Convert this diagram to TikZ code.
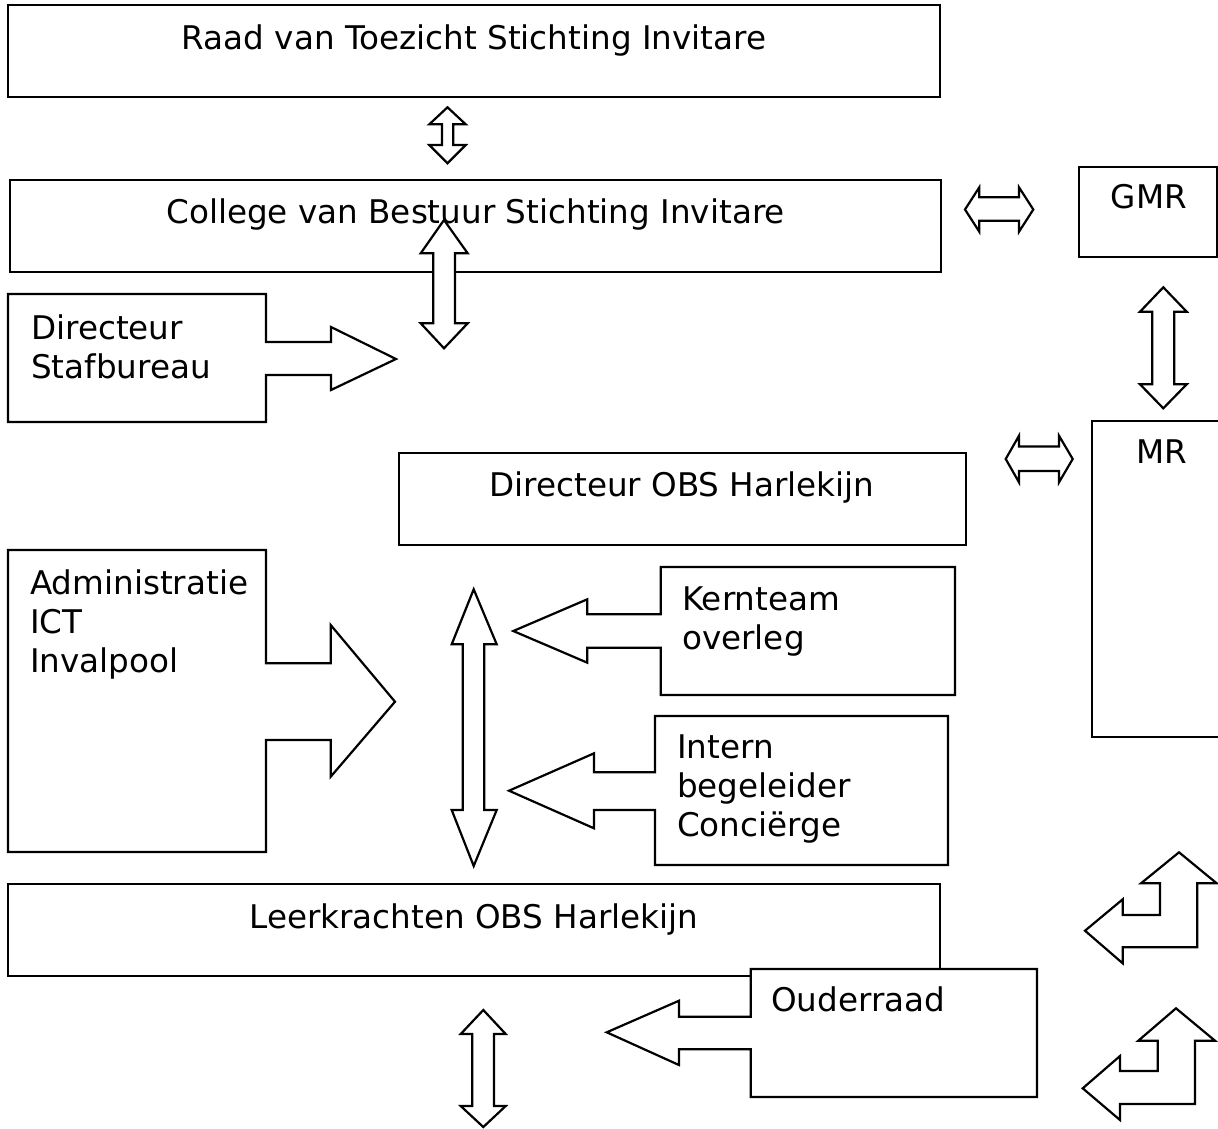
\documentclass[tikz,border=0pt]{standalone}
\usepackage{fontspec}
\setmainfont{DejaVu Sans}
\begin{document}
\begin{tikzpicture}[x=1pt,y=-1pt]
\tikzset{
  shp/.style={draw=black, fill=white, line width=2.2pt, line join=miter},
  lbl/.style={inner sep=0pt, font=\fontsize{32.6}{39}\selectfont, align=left},
}
\useasboundingbox (0,0) rectangle (1218,1128);
% top boxes
\draw[shp] (8,5) rectangle (940,97);
\draw[shp] (10,180) rectangle (941,272);
\draw[shp] (1079,167) rectangle (1217,257);
% Raad <-> College
\draw[shp] (447.5,107.3) -- (465.7,124.3) -- (453.3,124.3) -- (453.3,145) -- (465.7,145) -- (447.5,163.3) -- (429.3,145) -- (442,145) -- (442,124.3) -- (429.3,124.3) -- cycle;
% College <-> Stafbureau
\draw[shp] (444,220) -- (467.7,253.3) -- (455,253.3) -- (455,323.3) -- (467.7,323.3) -- (444,348.3) -- (420.7,323.3) -- (433.3,323.3) -- (433.3,253.3) -- (420.7,253.3) -- cycle;
% College <-> GMR
\draw[shp] (965,209.5) -- (979.3,187.3) -- (979.3,197.3) -- (1019,197.3) -- (1019,187.3) -- (1033.3,209.5) -- (1019,231.7) -- (1019,220.7) -- (979.3,220.7) -- (979.3,231.7) -- cycle;
% GMR <-> MR
\draw[shp] (1163.3,287.3) -- (1186.7,311.7) -- (1174.3,311.7) -- (1174.3,384.3) -- (1186.7,384.3) -- (1163.3,408.3) -- (1140,384.3) -- (1152.3,384.3) -- (1152.3,311.7) -- (1140,311.7) -- cycle;
% Directeur <-> MR
\draw[shp] (1005.7,459) -- (1019,435.7) -- (1019,446.5) -- (1059,446.5) -- (1059,435.7) -- (1072.7,459) -- (1059,482.3) -- (1059,471) -- (1019,471) -- (1019,482.3) -- cycle;
% Stafbureau callout
\draw[shp] (8,294) -- (266,294) -- (266,342) -- (331,342) -- (331,327) -- (396,359) -- (331,390) -- (331,375) -- (266,375) -- (266,422) -- (8,422) -- cycle;
% Directeur OBS
\draw[shp] (399,453) rectangle (966,545);
% MR (open to the right)
\draw[shp] (1230,421) -- (1092,421) -- (1092,737) -- (1230,737);
% Administratie callout
\draw[shp] (8,550) -- (266,550) -- (266,663.3) -- (330.7,663.3) -- (330.7,625) -- (395,701.7) -- (330.7,776.7) -- (330.7,740) -- (266,740) -- (266,852) -- (8,852) -- cycle;
% Kernteam callout
\draw[shp] (660.7,567) -- (955,567) -- (955,695) -- (660.7,695) -- (660.7,647.7) -- (587.3,647.7) -- (587.3,662.7) -- (513.3,631) -- (587.3,599.3) -- (587.3,614.3) -- (660.7,614.3) -- cycle;
% Intern callout
\draw[shp] (655,716) -- (948,716) -- (948,865) -- (655,865) -- (655,810) -- (594,810) -- (594,828.3) -- (509,790.7) -- (594,753.3) -- (594,772.3) -- (655,772.3) -- cycle;
% big vertical double arrow
\draw[shp] (473.7,589.3) -- (496.7,644.3) -- (484.3,644.3) -- (484.3,810) -- (496.7,810) -- (473.7,866) -- (451.7,810) -- (462.7,810) -- (462.7,644.3) -- (451.7,644.3) -- cycle;
% Leerkrachten
\draw[shp] (8,884) rectangle (940,976);
% Ouderraad callout
\draw[shp] (750.7,969) -- (1037,969) -- (1037,1097) -- (750.7,1097) -- (750.7,1049.3) -- (679,1049.3) -- (679,1065) -- (606.7,1032.3) -- (679,1000.7) -- (679,1016.7) -- (750.7,1016.7) -- cycle;
% bottom double arrow
\draw[shp] (483.3,1010) -- (505.7,1034) -- (494,1034) -- (494,1106) -- (505.7,1106) -- (483.3,1127) -- (460.7,1106) -- (472.3,1106) -- (472.3,1034) -- (460.7,1034) -- cycle;
% bent arrows
\draw[shp] (1179,852.3) -- (1216.7,883.3) -- (1197.3,883.3) -- (1197.3,947.3) -- (1122.7,947.3) -- (1122.7,963.3) -- (1085,930.7) -- (1122.7,899.3) -- (1122.7,915) -- (1160,915) -- (1160,883.3) -- (1141,883.3) -- cycle;
\draw[shp] (1176,1008.3) -- (1215,1040.7) -- (1195,1040.7) -- (1195,1104) -- (1120,1104) -- (1120,1120) -- (1082.7,1088.3) -- (1120,1056) -- (1120,1071) -- (1157.7,1071) -- (1157.7,1040.7) -- (1138.3,1040.7) -- cycle;
% labels
\node[lbl, anchor=base] (raad) at (474,49) {Raad van Toezicht Stichting Invitare};
\node[lbl, anchor=base] (college) at (475.5,223) {College van Bestuur Stichting Invitare};
\node[lbl, anchor=base] (gmr) at (1149,208) {GMR};
\node[lbl, anchor=base] (mr) at (1162,463) {MR};
\node[lbl, anchor=base west] (staf) at (31,378) {Directeur\\Stafbureau};
\node[lbl, anchor=base] (dirobs) at (682,496) {Directeur OBS Harlekijn};
\node[lbl, anchor=base west] (admin) at (30,672) {Administratie\\ICT\\Invalpool};
\node[lbl, anchor=base west] (kern) at (682,649) {Kernteam\\overleg};
\node[lbl, anchor=base west] (intern) at (677,836) {Intern\\begeleider\\Conciërge};
\node[lbl, anchor=base] (leerk) at (474,928) {Leerkrachten OBS Harlekijn};
\node[lbl, anchor=base west] (ouder) at (771,1011) {Ouderraad};
\end{tikzpicture}
\end{document}
